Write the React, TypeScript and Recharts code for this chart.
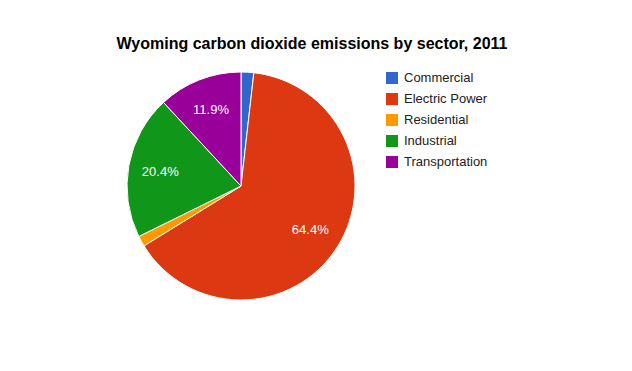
import React from "react";
import { PieChart, Pie, Cell, Legend } from "recharts";

const sectors = ["Commercial", "Electric Power", "Residential", "Industrial", "Transportation"];
const shares = [1.8, 64.4, 1.5, 20.4, 11.9];
const colors = ["#3366cc", "#dc3912", "#ff9900", "#109618", "#990099"];

const data = sectors.map((name, i) => ({ name, value: shares[i] }));

const RAD = Math.PI / 180;

const renderLabel = (props: any) => {
  const { cx, cy, midAngle, outerRadius, percent } = props;
  if (percent < 0.05) return null;
  const r = outerRadius * 0.72;
  const x = cx + r * Math.cos(-midAngle * RAD);
  const y = cy + r * Math.sin(-midAngle * RAD);
  return (
    <text
      x={x}
      y={y}
      fill="#ffffff"
      textAnchor="middle"
      dominantBaseline="central"
      fontFamily="Liberation Sans, Arial, sans-serif"
      fontSize={13}
    >
      {(percent * 100).toFixed(1)}%
    </text>
  );
};

const renderLegend = () => (
  <div style={{ fontFamily: "Liberation Sans, Arial, sans-serif", fontSize: 13, color: "#222" }}>
    {sectors.map((s, i) => (
      <div key={s} style={{ display: "flex", alignItems: "center", height: 21 }}>
        <div style={{ width: 12, height: 12, background: colors[i], marginRight: 6 }} />
        <span>{s}</span>
      </div>
    ))}
  </div>
);

export default function App() {
  return (
    <div style={{ position: "absolute", left: 0, top: 0, width: 632, height: 371, background: "#fff" }}>
      <div
        style={{
          position: "absolute",
          left: 0,
          width: 624,
          top: 34,
          textAlign: "center",
          fontFamily: "Liberation Sans, Arial, sans-serif",
          fontWeight: "bold",
          fontSize: 16,
          color: "#000",
          lineHeight: "20px",
        }}
      >
        Wyoming carbon dioxide emissions by sector, 2011
      </div>
      <PieChart width={632} height={371} margin={{ top: 0, right: 0, bottom: 0, left: 0 }}>
        <Pie
          data={data}
          dataKey="value"
          nameKey="name"
          cx={241}
          cy={186}
          outerRadius={114}
          startAngle={90}
          endAngle={-270}
          stroke="#ffffff"
          strokeWidth={1}
          label={renderLabel}
          labelLine={false}
          isAnimationActive={false}
        >
          {data.map((d, i) => (
            <Cell key={d.name} fill={colors[i]} />
          ))}
        </Pie>
        <Legend
          layout="vertical"
          verticalAlign="top"
          align="right"
          content={renderLegend}
          wrapperStyle={{ left: 386, top: 67, width: 200 }}
        />
      </PieChart>
    </div>
  );
}
